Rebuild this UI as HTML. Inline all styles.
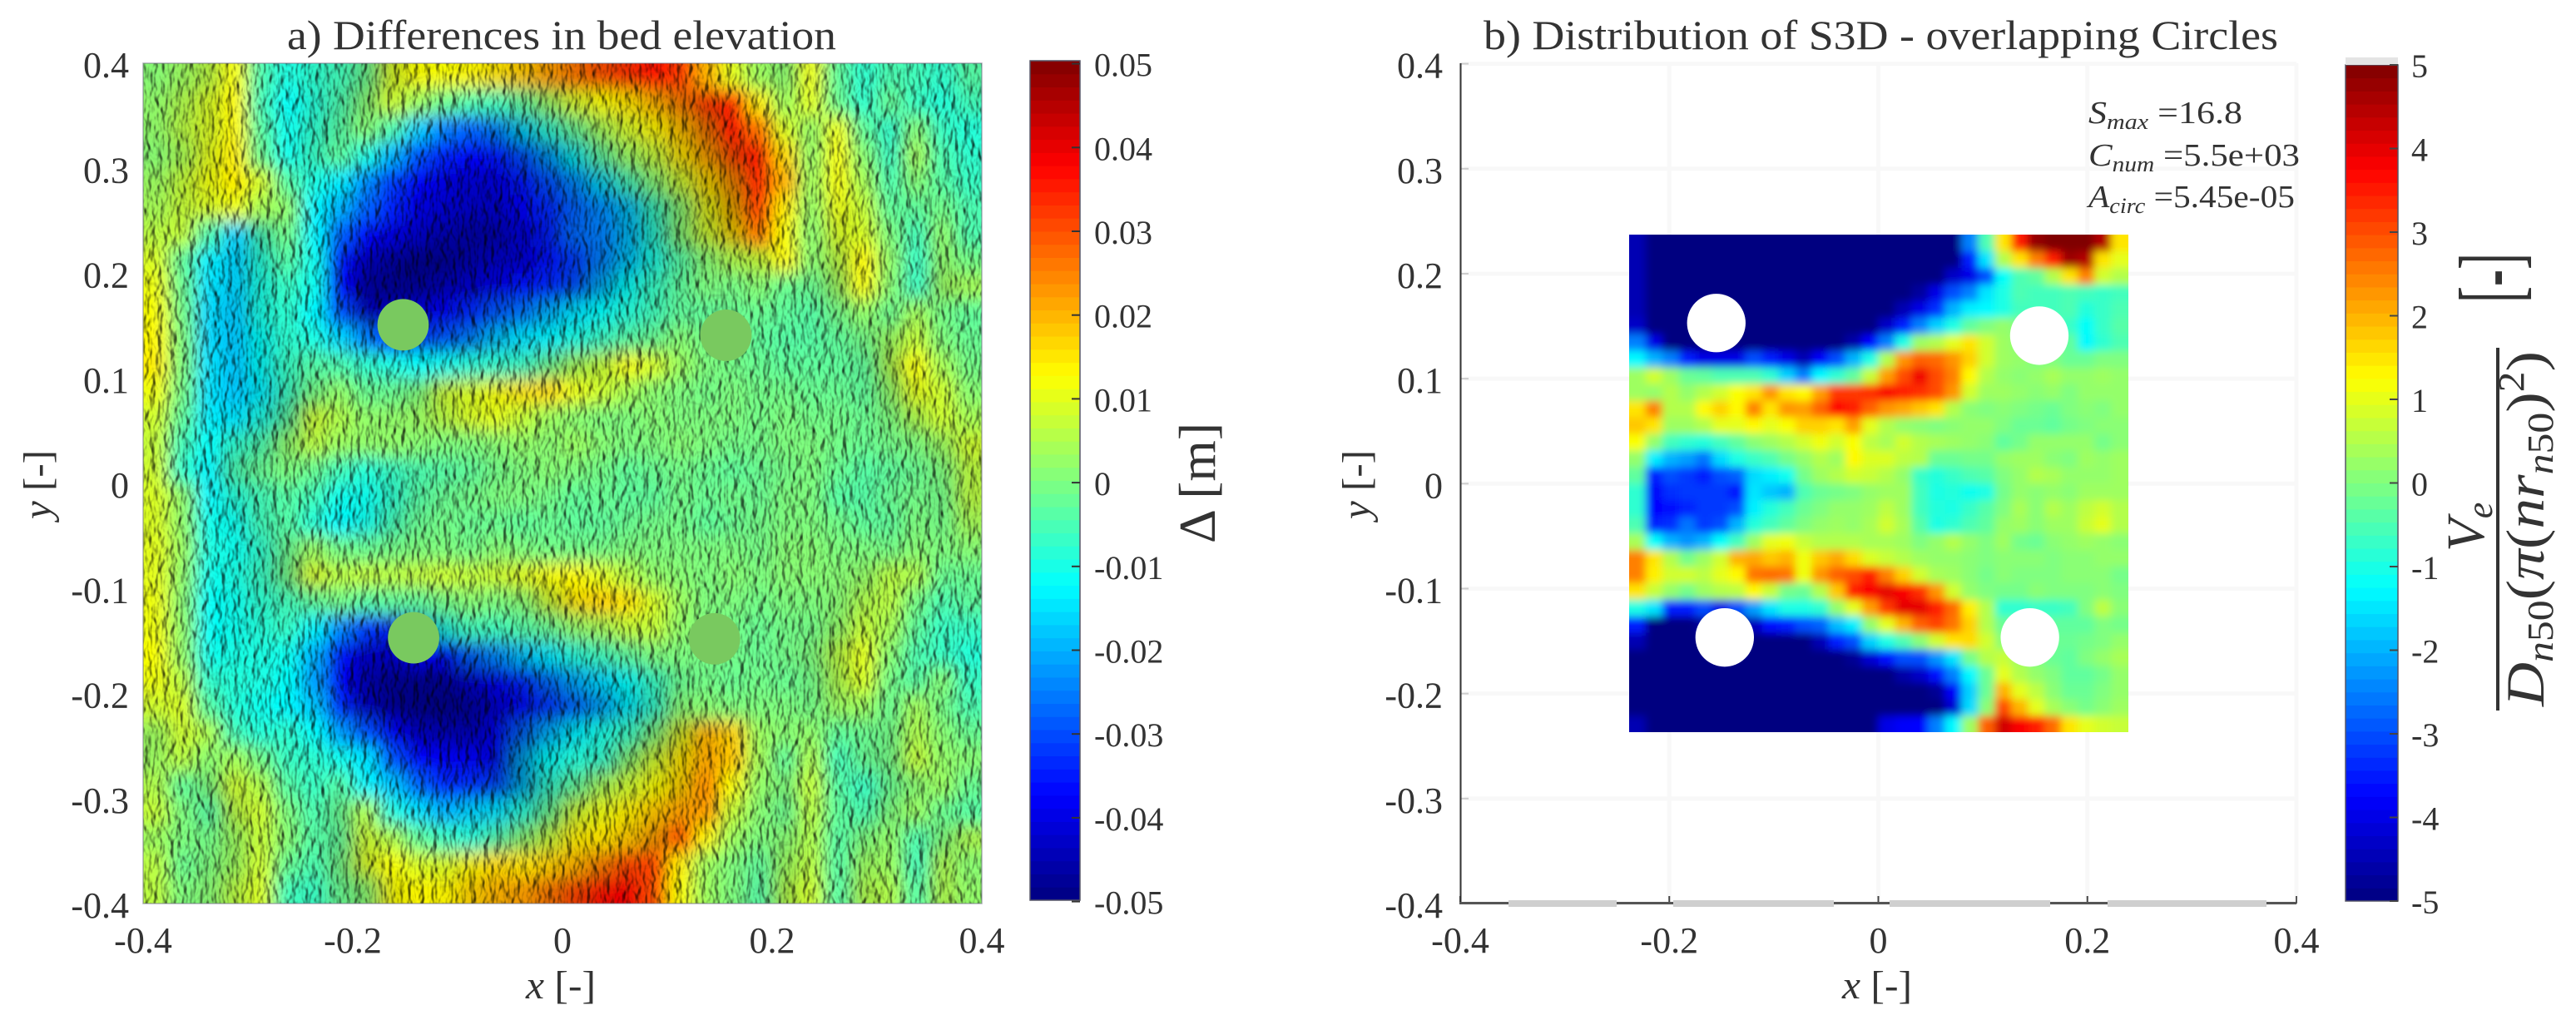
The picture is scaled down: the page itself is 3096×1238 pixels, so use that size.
<!DOCTYPE html>
<html lang="en">
<head>
<meta charset="utf-8">
<title>Bed elevation differences and S3D distribution</title>
<style>
html,body{margin:0;padding:0;background:#fff;}
#page{width:3096px;height:1238px;overflow:hidden;background:#fff;}
svg{display:block;}
text{font-family:"Liberation Serif",serif;fill:#333;}
</style>
</head>
<body>
<div id="page">
<svg id="fig" xmlns="http://www.w3.org/2000/svg" width="3096" height="1238" viewBox="0 0 3096 1238">
<defs>
<clipPath id="clipA"><rect x="172" y="76" width="1008" height="1010"/></clipPath>
<clipPath id="clipB"><rect x="1958" y="282" width="600" height="598"/></clipPath>
<filter id="blurA" filterUnits="userSpaceOnUse" x="90" y="0" width="1180" height="1170"><feGaussianBlur stdDeviation="10"/></filter>
<filter id="blurB" filterUnits="userSpaceOnUse" x="1900" y="230" width="720" height="710"><feGaussianBlur stdDeviation="5"/></filter>
<filter id="hillshade" filterUnits="userSpaceOnUse" x="172" y="76" width="1008" height="1010" color-interpolation-filters="sRGB">
<feTurbulence type="fractalNoise" baseFrequency="0.13 0.07" numOctaves="2" seed="7" result="n"/>
<feDiffuseLighting in="n" surfaceScale="3.8" diffuseConstant="1.02" lighting-color="#ffffff"><feDistantLight azimuth="0" elevation="66"/></feDiffuseLighting>
</filter>
</defs>

<g id="panelA">
<g clip-path="url(#clipA)">
<g id="bedCells" filter="url(#blurA)"></g>
<rect x="172" y="76" width="1008" height="1010" filter="url(#hillshade)" style="mix-blend-mode:multiply"/>
</g>
<rect x="172" y="76" width="1008" height="1010" fill="none" stroke="#778" stroke-opacity="0.6" stroke-width="1.5"/>
<g id="piersA"></g>
<g id="ticksA"></g>
<text x="345" y="59" font-size="50" textLength="660" lengthAdjust="spacingAndGlyphs" fill="#222">a) Differences in bed elevation</text>
<text x="632" y="1200" font-size="48" textLength="84" lengthAdjust="spacingAndGlyphs"><tspan font-style="italic">x</tspan> [-]</text>
<text transform="translate(61,624) rotate(-90)" font-size="48" textLength="83" lengthAdjust="spacingAndGlyphs" fill="#444"><tspan font-style="italic">y</tspan> [-]</text>
<g id="cbarA"></g>
<text transform="translate(1460,653) rotate(-90)" font-size="62" textLength="145" lengthAdjust="spacingAndGlyphs" fill="#444">Δ [m]</text>
</g>

<g id="panelB">
<g id="gridB"></g>
<g clip-path="url(#clipB)">
<g id="s3dCells" filter="url(#blurB)"></g>
</g>
<g id="holesB"></g>
<g id="ticksB"></g>
<text x="1783" y="59" font-size="50" textLength="955" lengthAdjust="spacingAndGlyphs" fill="#222">b) Distribution of S3D - overlapping Circles</text>
<text x="2214" y="1200" font-size="48" textLength="84" lengthAdjust="spacingAndGlyphs"><tspan font-style="italic">x</tspan> [-]</text>
<text transform="translate(1646,624) rotate(-90)" font-size="48" textLength="83" lengthAdjust="spacingAndGlyphs" fill="#777"><tspan font-style="italic">y</tspan> [-]</text>
<text x="2510" y="148" font-size="38" textLength="185" lengthAdjust="spacingAndGlyphs"><tspan font-style="italic">S</tspan><tspan font-style="italic" font-size="26" dy="7">max</tspan><tspan dy="-7"> =16.8</tspan></text>
<text x="2510" y="199" font-size="38" textLength="254" lengthAdjust="spacingAndGlyphs"><tspan font-style="italic">C</tspan><tspan font-style="italic" font-size="26" dy="7">num</tspan><tspan dy="-7"> =5.5e+03</tspan></text>
<text x="2510" y="249" font-size="38" textLength="248" lengthAdjust="spacingAndGlyphs"><tspan font-style="italic">A</tspan><tspan font-style="italic" font-size="26" dy="7">circ</tspan><tspan dy="-7"> =5.45e-05</tspan></text>
<g id="cbarB"></g>
<text transform="translate(2985,663) rotate(-90)" font-size="65" font-style="italic">V<tspan font-size="44" dy="10">e</tspan></text>
<rect x="3000" y="418" width="4" height="436" fill="#333"/>
<text transform="translate(3057,849) rotate(-90)" font-size="65" textLength="427" lengthAdjust="spacingAndGlyphs"><tspan font-style="italic">D</tspan><tspan font-size="44" dy="11"><tspan font-style="italic">n</tspan>50</tspan><tspan dy="-11">(</tspan><tspan font-style="italic">π</tspan>(<tspan font-style="italic">nr</tspan><tspan font-size="44" dy="11"><tspan font-style="italic">n</tspan>50</tspan><tspan dy="-11">)</tspan><tspan font-size="44" dy="-24">2</tspan><tspan dy="24">)</tspan></text>
<text transform="translate(3028,364) rotate(-90)" font-size="105" textLength="60" lengthAdjust="spacingAndGlyphs">[-]</text>
</g>
</svg>
</div>
<script>
const xTickValues = [-0.4, -0.2, 0, 0.2, 0.4];
const xTickLabels = ['-0.4', '-0.2', '0', '0.2', '0.4'];
const yTickValues = [0.4, 0.3, 0.2, 0.1, 0, -0.1, -0.2, -0.3, -0.4];
const yTickLabels = ['0.4', '0.3', '0.2', '0.1', '0', '-0.1', '-0.2', '-0.3', '-0.4'];
const cbarATickValues = [0.05, 0.04, 0.03, 0.02, 0.01, 0, -0.01, -0.02, -0.03, -0.04, -0.05];
const cbarATickLabels = ['0.05', '0.04', '0.03', '0.02', '0.01', '0', '-0.01', '-0.02', '-0.03', '-0.04', '-0.05'];
const cbarBTickValues = [5, 4, 3, 2, 1, 0, -1, -2, -3, -4, -5];
const cbarBTickLabels = ['5', '4', '3', '2', '1', '0', '-1', '-2', '-3', '-4', '-5'];
const pierAx = [-0.152, 0.156, -0.142, 0.145];
const pierAy = [0.151, 0.141, -0.147, -0.148];
const pierBx = [-0.155, 0.154, -0.147, 0.145];
const pierBy = [0.153, 0.141, -0.1465, -0.1465];
const pierRadiusA = 0.0245;
const pierRadiusB = 0.028;
const bedExtentX = [-0.4, 0.4];
const bedExtentY = [0.4, -0.4];
const s3dExtentX = [-0.2385, 0.2385];
const s3dExtentY = [0.237, -0.237];
// Bed elevation difference in millimetres, rows top to bottom, columns left to right.
const bedDiffMm = [
[1,3,6,12,-5,-10,-8,-6,-2,9,12,12,13,15,18,22,26,30,33,36,32,20,10,3,1,11,-3,-8,-5,-6,-8,-4],
[2,5,9,13,-6,-12,-9,-5,1,8,3,-2,-5,-6,-3,3,9,12,15,20,25,33,35,14,3,10,-2,-8,-2,-7,-9,-6],
[2,6,9,13,-4,-11,-8,-4,1,-5,-17,-25,-28,-25,-16,-8,-2,4,9,13,19,26,38,26,9,2,11,-3,-8,1,-7,-9],
[1,4,10,14,-2,-11,-7,-3,-10,-20,-30,-35,-38,-36,-30,-22,-12,-3,3,7,15,22,31,37,16,2,12,1,-7,4,-5,-8],
[3,7,11,14,9,-4,-10,-14,-24,-32,-38,-41,-43,-41,-36,-30,-24,-15,-6,1,8,16,24,35,20,3,12,4,-5,1,-4,-7],
[4,7,9,11,4,2,-13,-20,-28,-35,-41,-43,-44,-43,-38,-34,-28,-24,-18,-7,1,11,20,32,14,2,11,7,-3,-3,-1,-5],
[6,7,-5,-17,-6,-1,-13,-28,-37,-41,-44,-46,-48,-46,-41,-35,-27,-25,-19,-9,1,8,16,26,12,1,9,9,0,-6,2,-5],
[9,-3,-14,-17,-9,-4,-11,-36,-45,-48,-50,-49,-46,-44,-42,-36,-32,-25,-18,-10,-4,1,5,7,13,1,6,13,2,-7,2,-1],
[11,-2,-15,-17,-10,-7,-11,-37,-48,-49,-48,-45,-43,-40,-36,-34,-30,-20,-12,-7,-3,0,-1,1,-2,-2,3,12,1,-7,3,4],
[12,-1,-16,-18,-10,-8,-13,-30,-45,-44,-41,-38,-34,-29,-26,-20,-15,-12,-9,-6,-3,-3,-2,-2,-3,-4,-1,2,-2,4,-1,-3],
[13,0,-16,-18,-12,-8,-10,-16,-25,-37,-33,-29,-25,-18,-15,-13,-10,-7,-4,-2,1,-1,-1,-3,-4,-4,-3,-1,3,7,0,-2],
[14,0,-15,-18,-12,-7,-4,-5,-8,-10,-12,-11,-9,-8,-7,-2,4,7,12,9,3,0,-1,-2,-3,-3,-3,-3,5,12,4,-1],
[11,-1,-15,-18,-14,-7,-1,2,-2,-2,0,8,9,12,15,16,11,8,4,1,0,-1,0,-1,-1,-2,-2,-3,2,10,8,1],
[8,-3,-14,-15,-10,-4,8,5,2,2,3,6,9,10,7,3,1,0,0,1,0,0,0,-1,0,-1,-1,-2,0,5,8,4],
[7,-6,-12,-8,-5,2,6,3,2,2,1,0,0,1,2,1,3,1,0,0,1,0,-1,-1,0,0,-1,-2,-1,0,3,8],
[8,-8,-13,-5,-2,0,-2,-6,-9,-7,-5,-4,-3,-1,0,1,0,-1,-3,-2,-1,-2,-3,-2,-1,0,-2,-4,-3,-2,0,6],
[9,2,-13,-9,-6,-4,-6,-11,-11,-8,-4,-2,-1,0,0,-1,-3,-2,-3,-3,-1,-2,-1,-2,0,0,-4,-4,-2,-1,-1,6],
[9,2,-11,-11,-6,-4,-9,-13,-11,-6,-2,-1,-2,-2,-3,-2,-3,-3,-2,-1,-1,-3,-2,-1,0,0,-1,-3,-3,0,-1,4],
[10,3,-10,-11,-8,-2,3,-1,-2,-1,0,0,-1,1,0,-1,-1,-1,0,0,0,0,0,-1,1,1,0,0,-1,1,0,1],
[10,2,-11,-10,-7,-1,9,6,7,6,7,8,7,8,10,12,13,10,6,2,1,0,1,0,1,1,1,2,6,5,-2,-2],
[11,1,-12,-11,-8,-6,-3,-1,-4,-3,-3,-1,1,0,1,8,15,17,15,9,3,0,0,-1,0,0,1,5,6,-1,-5,-3],
[11,2,-12,-11,-9,-7,-13,-24,-32,-35,-22,-10,-6,-6,-4,-2,2,4,7,7,2,0,-1,-2,-1,-1,2,7,4,-3,-7,-7],
[12,2,-11,-10,-10,-11,-20,-36,-44,-42,-38,-37,-28,-24,-18,-14,-9,-6,-3,0,0,-1,-1,-2,-1,0,6,10,1,-5,-7,-9],
[11,6,-8,-9,-10,-12,-22,-38,-46,-49,-49,-48,-43,-39,-34,-27,-21,-16,-12,-7,-2,-1,-2,-1,-2,-1,5,9,-1,-4,1,-7],
[8,9,-4,-9,-11,-13,-18,-34,-45,-49,-50,-50,-48,-43,-39,-33,-28,-22,-14,-8,1,1,0,0,0,-1,3,3,-2,4,-1,-5],
[3,8,5,-6,-9,-8,-12,-22,-30,-39,-45,-46,-45,-37,-28,-20,-14,-10,-7,0,10,20,17,3,1,2,-3,-2,-1,5,1,-2],
[3,6,1,4,-1,-7,-8,-11,-15,-30,-37,-39,-39,-37,-20,-12,-9,-8,1,8,15,21,18,4,-3,5,-6,-2,-1,7,2,1],
[5,-3,0,8,5,-4,-7,-4,-13,-18,-28,-34,-33,-31,-19,-8,-3,4,8,12,17,24,12,2,0,7,-4,-7,-2,1,3,-2],
[7,0,-4,6,8,0,-5,-2,5,-10,-15,-20,-17,-15,-9,-2,8,11,14,18,22,22,7,1,-2,6,-3,-5,0,3,-2,-4],
[3,0,-1,3,7,1,-4,-3,8,5,-3,-7,-9,-5,1,7,14,15,18,22,30,13,3,0,1,5,-4,0,2,-5,0,5],
[6,-2,0,3,8,-2,-5,-1,9,12,9,9,13,16,15,17,20,25,31,31,14,3,0,-3,3,6,-4,3,3,-6,5,1],
[6,0,1,6,9,-6,-7,-2,1,12,13,13,17,20,22,26,31,36,39,30,12,3,0,-4,5,8,-4,5,5,-4,5,2]
];
// Normalised S3D volume per circle, rows top to bottom, columns left to right.
const s3dValues = [
[-4.5,-5,-5,-5,-5,-5,-5,-5,-5,-5,-5,-5,-5,-5,-5,-5,-5,-5,-5,-5,-2.5,-0.5,1.5,3.5,4.8,5,5,5,4.5,1.5],
[-4.5,-5,-5,-5,-5,-5,-5,-5,-5,-5,-5,-5,-5,-5,-5,-5,-5,-5,-5,-5,-3.5,-1.5,0.5,1.5,2.5,3.5,4.7,4.5,1.5,1],
[-4.5,-5,-5,-5,-5,-5,-5,-5,-5,-5,-5,-5,-5,-5,-5,-5,-5,-5,-5,-4.3,-4,-3,-1.2,-0.5,-0.3,0.5,1.5,2.5,0.8,0.5],
[-4.5,-5,-5,-5,-5,-5,-5,-5,-5,-5,-5,-5,-5,-5,-5,-5,-5,-4.7,-4,-3,-2.5,-1.5,-1,-0.5,-0.6,-0.6,-0.5,-0.6,-0.7,-0.6],
[-4.5,-5,-5,-5,-5,-5,-5,-5,-5,-5,-5,-5,-5,-5,-5,-5,-4.5,-4,-3.3,-2,-1.4,-1.3,-1,-0.6,-0.6,-0.6,-0.5,-0.9,-0.7,-0.5],
[-4.3,-5,-5,-5,-5,-5,-5,-5,-5,-5,-5,-5,-5,-5,-5,-4.3,-3.5,-2.5,-1.7,-1,-0.3,0,0.2,0,0,-0.3,-0.7,-1.2,-0.7,-0.4],
[-2.5,-4,-5,-5,-5,-5,-5,-5,-5,-5,-5,-5,-5,-4.6,-3.7,-2.5,-1,0.3,0.5,1,1.5,0.8,0.3,0.1,0.1,0,-0.3,-1.3,-0.8,-0.5],
[-1.3,-2,-2.5,-3.5,-4,-4,-4,-3,-3.5,-4,-4.5,-3.8,-3,-2,-1,0.5,2.3,2.8,2.7,2.3,1.7,0.8,0.3,0.2,0,0,-0.2,-0.2,0,0],
[0.3,0.8,0.3,-0.2,-0.3,-0.5,-0.5,-0.5,-0.8,-1.7,-2.5,-1.3,-0.8,-0.3,0.7,2.2,3,3.9,3,2.5,1.3,0.5,0.2,0.1,0.2,0.4,0.2,0.2,0.3,0.2],
[0.3,0.2,0.5,0.2,0.5,0.8,1.2,1.5,2.3,1.5,1.3,2.2,3.2,3.2,3.3,3.8,3.5,3.3,3,2.3,0.8,0.3,0.3,0.2,0.1,0.2,0,0.2,0.2,0.2],
[1.5,2.5,0.5,0.5,1.3,1.7,1.3,2.5,1.5,2.3,2.2,2.8,3.7,3.5,2.8,2.3,2.1,1.8,1.5,0.5,0.1,0,0.1,0,-0.1,-0.2,0,0.1,0,0.2],
[1.8,1.5,0.3,0.3,0.5,1,1,1.3,1,1.2,1.7,1.7,1.5,2.2,1,0.5,0.2,0.1,0,0.1,0.2,0.2,0,-0.2,-0.2,-0.3,-0.1,0,0.1,0.1],
[1.2,0.2,-0.6,-0.8,-0.9,-0.6,-0.3,0.1,0.3,0.5,0.8,1.1,0.8,1.2,0.6,0.4,0.8,0.5,0.4,0.3,0.2,0.1,-0.3,-0.1,0.2,0.2,0.2,0.2,-0.1,0.1],
[0.2,-1.4,-2,-2.2,-2.6,-1.6,-1,-0.7,-0.5,-0.1,0.2,0.5,0.3,1.3,0.9,0.9,0.6,0.5,-0.2,-0.2,-0.1,-0.1,0.2,0.3,0.3,0.1,0,0.3,0.2,0.3],
[-0.3,-3.5,-3,-3.2,-3.5,-3,-2.8,-1.6,-1.4,-1.1,-0.1,0.3,0.5,0.8,0.7,0.5,0.2,-0.7,-0.9,-0.7,-0.5,-0.4,0,0.2,0.5,0.4,0.2,0.2,0.2,0.3],
[-0.8,-3.8,-3.3,-3.2,-3.2,-3.2,-3.6,-1.5,-1.8,-2,-0.5,-0.2,-0.1,0,0.2,0.3,0.3,-0.6,-1,-0.9,-1.1,-1,-0.1,0.2,0.1,0.2,0.1,0.3,0.3,0.3],
[-0.8,-3.7,-3.6,-3.4,-3.2,-3.2,-3,-1.4,-0.9,-0.6,-0.2,0,0.2,0.2,0.3,0.6,0.3,-0.6,-0.9,-1,-0.7,-0.4,0,0.4,0.1,0.5,0.3,0.6,0.8,0.5],
[-0.5,-3.4,-3.3,-2.6,-3.2,-3,-2,-0.9,-0.6,-0.3,0,0.2,0.3,0.2,0.4,0.8,0.4,-0.4,-1,-0.8,-0.5,-0.3,0.2,0.3,0.1,0.3,0.3,0.7,1,0.5],
[0.4,-1.2,-2,-2.3,-2,-1.2,-0.6,0.3,1,1.1,0.7,0.5,0.5,0.5,0.4,0.4,0.3,0,0.2,0.5,0.2,0,0.3,-0.1,-0.2,0.1,0.2,0.3,0.2,0.1],
[2.5,1.5,0.5,-0.1,0.3,0.8,2,2.1,1.8,2,1.1,1.8,2.1,1.6,0.9,0.7,0.5,0.3,0.2,0.2,0.1,0,0.1,0.1,0.1,0,0.1,0.1,0.2,0.2],
[2.5,1.4,0.8,0.8,0.6,1,1.3,2.6,2.7,2.6,1.1,2.3,2.8,3,3.5,2.5,1.7,0.8,0.4,0.3,0.1,-0.1,0.1,0,0,0,0.1,0.1,0.1,-0.1],
[1.5,0.7,0.2,-0.1,0.3,0.5,0.6,1.3,0.7,-0.1,-0.2,0.5,1.8,3.5,3.8,4,3.8,3.3,2.3,0.8,0.2,0,-0.1,-0.1,0.1,0,0,0,0.1,0],
[-1,-1.5,-3.5,-3.5,-3,-4,-3,-2.2,-1.5,-1,-1,-0.8,0.2,1,2.2,3.2,4,4,3.5,2.7,1.4,0.5,-0.8,-0.8,-0.7,-0.7,-0.6,0,0.6,0.1],
[-3.5,-5,-5,-5,-4.7,-4.6,-5,-4.4,-3.6,-3.5,-3,-2.8,-1.9,-1.4,0.2,1,2,2.8,3.1,2.6,1.7,0.5,-0.2,-0.3,-0.3,-0.3,-0.3,-0.3,0,-0.1],
[-4.5,-5,-5,-5,-5,-5,-5,-5,-5,-5,-5,-4.5,-3.5,-3,-1.7,-1,-0.5,0.1,0.8,1.5,1.6,0.8,0.1,0,-0.1,-0.2,-0.2,-0.1,0,0.2],
[-5,-5,-5,-5,-5,-5,-5,-5,-5,-5,-5,-5,-5,-4.8,-4.2,-3.6,-3,-3,-2.3,-1.5,-0.1,0.5,0.7,0.3,0,-0.2,-0.3,0,0.2,0.4],
[-5,-5,-5,-5,-5,-5,-5,-5,-5,-5,-5,-5,-5,-5,-5,-5,-4.6,-4.3,-3.6,-2.5,-1.3,-0.2,1,0.5,0.2,0,-0.3,-0.3,-0.1,0.2],
[-5,-5,-5,-5,-5,-5,-5,-5,-5,-5,-5,-5,-5,-5,-5,-5,-5,-5,-4.8,-3.8,-1.7,-0.2,2,1,0.6,0.1,-0.2,-0.2,0,0.2],
[-5,-5,-5,-5,-5,-5,-5,-5,-5,-5,-5,-5,-5,-5,-5,-5,-5,-5,-5,-4.2,-1.6,0.1,3,2,1,0.4,0.1,-0.1,0.1,0.3],
[-4.5,-5,-5,-5,-5,-5,-5,-5,-5,-5,-5,-5,-5,-5,-5,-4,-3.8,-3.7,-2.5,-1.3,0.3,2.8,4.2,3.8,3.5,2.7,1.5,1,0.8,0.7]
];

const NS = 'http://www.w3.org/2000/svg';
function xA(v){ return 172 + (v + 0.4) / 0.8 * 1008; }
function yA(v){ return 76 + (0.4 - v) / 0.8 * 1010; }
function xB(v){ return 1755 + (v + 0.4) / 0.8 * 1005; }
function yB(v){ return 76.6 + (0.4 - v) / 0.8 * 1009.4; }
function yCbarA(v){ return 73 + (0.05 - v) / 0.1 * 1009; }
function yCbarAtick(v){ return 76.6 + (0.05 - v) / 0.1 * 1007; }
function yCbarB(v){ return 78 + (5 - v) / 10 * 1005; }
function clamp01(t){ return Math.max(0, Math.min(1, t)); }
function jet(t){
  return [clamp01(1.5 - Math.abs(4 * t - 3)), clamp01(1.5 - Math.abs(4 * t - 2)), clamp01(1.5 - Math.abs(4 * t - 1))];
}
function rgb(c, f){
  return 'rgb(' + Math.round(255 * clamp01(c[0] * f)) + ',' + Math.round(255 * clamp01(c[1] * f)) + ',' + Math.round(255 * clamp01(c[2] * f)) + ')';
}
function mk(tag, attrs, parent){
  const el = document.createElementNS(NS, tag);
  for (const k in attrs) el.setAttribute(k, attrs[k]);
  parent.appendChild(el);
  return el;
}
const $ = id => document.getElementById(id);

/* Panel a heatmap: colour from value, darkened on slopes rising to the right */
(function(){
  const g = $('bedCells');
  const nR = bedDiffMm.length, nC = bedDiffMm[0].length;
  const dx = (bedExtentX[1] - bedExtentX[0]) / nC, dy = (bedExtentY[0] - bedExtentY[1]) / nR;
  bedDiffMm.forEach(function(row, j){
    row.forEach(function(v, i){
      const x0 = xA(bedExtentX[0] + i * dx) - (i === 0 ? 40 : 0);
      const x1 = xA(bedExtentX[0] + (i + 1) * dx) + (i === nC - 1 ? 40 : 0.6);
      const y0 = yA(bedExtentY[0] - j * dy) - (j === 0 ? 40 : 0);
      const y1 = yA(bedExtentY[0] - (j + 1) * dy) + (j === nR - 1 ? 40 : 0.6);
      const slope = (row[Math.min(i + 1, nC - 1)] - row[Math.max(i - 1, 0)]) / 2;
      const shade = slope > 0 ? Math.max(0.6, 1 - 0.022 * slope) : 1;
      const r = mk('rect', {x: x0, y: y0, width: x1 - x0, height: y1 - y0, fill: rgb(jet((v + 50) / 100), shade)}, g);
      
      
    });
  });
  pierAx.forEach(function(px, k){
    const c = mk('ellipse', {cx: xA(px), cy: yA(pierAy[k]), rx: xA(pierRadiusA) - xA(0), ry: yA(0) - yA(pierRadiusA), fill: '#79c95f'}, $('piersA'));
    
    
  });
})();

/* Panel b heatmap */
(function(){
  const g = $('s3dCells');
  const nR = s3dValues.length, nC = s3dValues[0].length;
  const dx = (s3dExtentX[1] - s3dExtentX[0]) / nC, dy = (s3dExtentY[0] - s3dExtentY[1]) / nR;
  s3dValues.forEach(function(row, j){
    row.forEach(function(v, i){
      const x0 = xB(s3dExtentX[0] + i * dx) - (i === 0 ? 12 : 0);
      const x1 = xB(s3dExtentX[0] + (i + 1) * dx) + (i === nC - 1 ? 12 : 0.6);
      const y0 = yB(s3dExtentY[0] - j * dy) - (j === 0 ? 12 : 0);
      const y1 = yB(s3dExtentY[0] - (j + 1) * dy) + (j === nR - 1 ? 12 : 0.6);
      const r = mk('rect', {x: x0, y: y0, width: x1 - x0, height: y1 - y0, fill: rgb(jet((v + 5) / 10), 1)}, g);
      
      
    });
  });
  pierBx.forEach(function(px, k){
    const c = mk('circle', {cx: xB(px), cy: yB(pierBy[k]), r: xB(pierRadiusB) - xB(0), fill: '#ffffff'}, $('holesB'));
    
    
  });
})();

/* Axis ticks and labels */
(function(){
  const ta = $('ticksA'), tb = $('ticksB'), gb = $('gridB');
  xTickValues.forEach(function(v, k){
    const la = mk('text', {x: xA(v), y: 1145, 'font-size': 44, 'text-anchor': 'middle'}, ta);
    la.textContent = xTickLabels[k];
    
    
    const lb = mk('text', {x: xB(v), y: 1145, 'font-size': 44, 'text-anchor': 'middle'}, tb);
    lb.textContent = xTickLabels[k];
    
    
    const gl = mk('line', {x1: xB(v), x2: xB(v), y1: 76, y2: 1080, stroke: '#f8f8f8', 'stroke-width': 5}, gb);
    
    
    const tk = mk('line', {x1: xB(v), x2: xB(v), y1: 1077, y2: 1086, stroke: '#444', 'stroke-width': 2}, tb);
    
    
  });
  yTickValues.forEach(function(v, k){
    const la = mk('text', {x: 155, y: yA(v) + 17, 'font-size': 44, 'text-anchor': 'end'}, ta);
    la.textContent = yTickLabels[k];
    
    
    const lb = mk('text', {x: 1734, y: yB(v) + 17, 'font-size': 44, 'text-anchor': 'end'}, tb);
    lb.textContent = yTickLabels[k];
    
    
    const gl = mk('line', {x1: 1760, x2: 2760, y1: yB(v), y2: yB(v), stroke: '#f8f8f8', 'stroke-width': 5}, gb);
    
    
    const tk = mk('line', {x1: 1755, x2: 1765, y1: yB(v), y2: yB(v), stroke: '#ccc', 'stroke-width': 2}, tb);
    
    
  });
  const left = mk('line', {x1: 1755.5, x2: 1755.5, y1: 76, y2: 1086, stroke: '#333', 'stroke-width': 2}, tb);
  
  
  const base = mk('line', {x1: 1754, x2: 2760, y1: 1085.5, y2: 1085.5, stroke: '#555', 'stroke-width': 3}, tb);
  
  
  const rightTick = mk('line', {x1: 2760, x2: 2760, y1: 1077, y2: 1086, stroke: '#555', 'stroke-width': 2}, tb);
  
  
  [[1813, 1943], [2011, 2204], [2271, 2464], [2533, 2724]].forEach(function(s){
    const smear = mk('rect', {x: s[0], y: 1082, width: s[1] - s[0], height: 8, fill: '#cfcfcf'}, tb);
    
    
  });
})();

/* Colorbars */
(function(){
  const levels = 64;
  const a = $('cbarA'), b = $('cbarB');
  for (let k = 0; k < levels; k++) {
    const lo = k / levels, hi = (k + 1) / levels, col = rgb(jet((k + 0.5) / levels), 1);
    const ya0 = yCbarA(-0.05 + hi * 0.1), ya1 = yCbarA(-0.05 + lo * 0.1);
    const ra = mk('rect', {x: 1238, y: ya0, width: 60, height: ya1 - ya0 + 0.5, fill: col}, a);
    
    
    const yb0 = yCbarB(-5 + hi * 10), yb1 = yCbarB(-5 + lo * 10);
    const rb = mk('rect', {x: 2819, y: yb0, width: 63, height: yb1 - yb0 + 0.5, fill: col}, b);
    
    
  }
  const frameA = mk('rect', {x: 1238, y: 73, width: 60, height: 1009, fill: 'none', stroke: '#556', 'stroke-width': 1.5}, a);
  
  
  const frameB = mk('rect', {x: 2819, y: 78, width: 63, height: 1005, fill: 'none', stroke: '#556', 'stroke-width': 1.5}, b);
  
  
  const capB = mk('rect', {x: 2819, y: 69, width: 63, height: 9, fill: '#e4e4e4'}, b);
  
  
  cbarATickValues.forEach(function(v, k){
    const y = yCbarAtick(v);
    const t = mk('line', {x1: 1288, x2: 1298, y1: y, y2: y, stroke: '#333', 'stroke-width': 2}, a);
    
    
    const l = mk('text', {x: 1315, y: y + 15, 'font-size': 40, fill: v === 0 ? '#888' : '#333'}, a);
    l.textContent = cbarATickLabels[k];
    
    
  });
  cbarBTickValues.forEach(function(v, k){
    const y = yCbarB(v);
    const t = mk('line', {x1: 2872, x2: 2882, y1: y, y2: y, stroke: '#444', 'stroke-width': 2}, b);
    
    
    const l = mk('text', {x: 2898, y: y + 15, 'font-size': 40, fill: v === 5 ? '#777' : '#333'}, b);
    l.textContent = cbarBTickLabels[k];
    
    
  });
})();
</script>
</body>
</html>
